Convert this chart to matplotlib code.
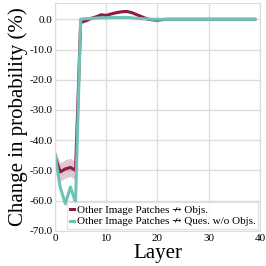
import numpy as np
import matplotlib.pyplot as plt

layers = list(range(40))
objs = [-45.5, -50.5, -49.5, -49.0, -50.0, -1.0, -0.5, 0.3, 0.8, 1.5,
        1.3, 1.8, 2.2, 2.5, 2.6, 2.2, 1.5, 0.8, 0.1, -0.2,
        -0.3, -0.1, 0.0, 0.0, 0.0, 0.0, 0.0, 0.0, 0.0, 0.0,
        0.0, 0.0, 0.0, 0.0, 0.0, 0.0, 0.0, 0.0, 0.0, 0.0]
objs_err = [2.5, 3.0, 3.0, 3.0, 3.0, 0.5, 0.4, 0.4, 0.4, 0.4,
            0.4, 0.4, 0.4, 0.4, 0.4, 0.4, 0.4, 0.3, 0.3, 0.2,
            0.2, 0.1, 0.1, 0.1, 0.1, 0.1, 0.1, 0.1, 0.1, 0.1,
            0.1, 0.1, 0.1, 0.1, 0.1, 0.1, 0.1, 0.1, 0.1, 0.1]
ques = [-45.0, -55.5, -61.0, -55.5, -60.5, 0.0, 0.2, 0.3, 0.4, 0.5,
        0.5, 0.6, 0.6, 0.6, 0.6, 0.5, 0.3, 0.2, 0.1, 0.0,
        0.0, 0.0, 0.0, 0.0, 0.0, 0.0, 0.0, 0.0, 0.0, 0.0,
        0.0, 0.0, 0.0, 0.0, 0.0, 0.0, 0.0, 0.0, 0.0, 0.0]
ques_err = [1.0, 1.0, 1.0, 1.0, 1.0, 0.2, 0.1, 0.1, 0.1, 0.1,
            0.1, 0.1, 0.1, 0.1, 0.1, 0.1, 0.1, 0.1, 0.1, 0.1,
            0.1, 0.1, 0.1, 0.1, 0.1, 0.1, 0.1, 0.1, 0.1, 0.1,
            0.1, 0.1, 0.1, 0.1, 0.1, 0.1, 0.1, 0.1, 0.1, 0.1]
labels = ["Other Image Patches \u219b Objs.",
          "Other Image Patches \u219b Ques. w/o Objs."]

plt.rcParams['font.family'] = ['Liberation Serif', 'DejaVu Serif']

red = "#8c1c47"
teal = "#6fc2b6"

fig = plt.figure(figsize=(2.66, 2.66), dpi=100)
ax = fig.add_axes([0.207, 0.132, 0.77, 0.858])

x = np.array(layers)
for y, e, c, lab in [(objs, objs_err, red, labels[0]), (ques, ques_err, teal, labels[1])]:
    y = np.array(y)
    e = np.array(e)
    ax.fill_between(x, y - e, y + e, color=c, alpha=0.25, lw=0)
    ax.plot(x, y, color=c, lw=2.2, label=lab)

ax.set_xlim(0, 40)
ax.set_ylim(-70, 5.5)
ax.set_xticks([0, 10, 20, 30, 40])
ax.set_yticks(np.arange(-70, 1, 10))
ax.set_yticklabels([f"{v:.1f}" for v in np.arange(-70, 1, 10)])
ax.tick_params(labelsize=8, length=0, pad=2)
ax.grid(True, color="#dddddd", lw=1)
ax.set_axisbelow(True)
for s in ax.spines.values():
    s.set_color("#dddddd")

ax.set_xlabel("Layer", fontsize=15, labelpad=1)
ax.set_ylabel("Change in probability (%)", fontsize=15, labelpad=1)

leg = ax.legend(loc="lower left", fontsize=8, handlelength=0.35, handletextpad=0.3,
                labelspacing=0.15, borderpad=0.25, borderaxespad=0.15,
                bbox_to_anchor=(0.05, 0.0), fancybox=False, framealpha=0.9)
leg.get_frame().set_edgecolor("#dddddd")
leg.get_frame().set_linewidth(0.8)

fig.savefig("out.png", dpi=100)
